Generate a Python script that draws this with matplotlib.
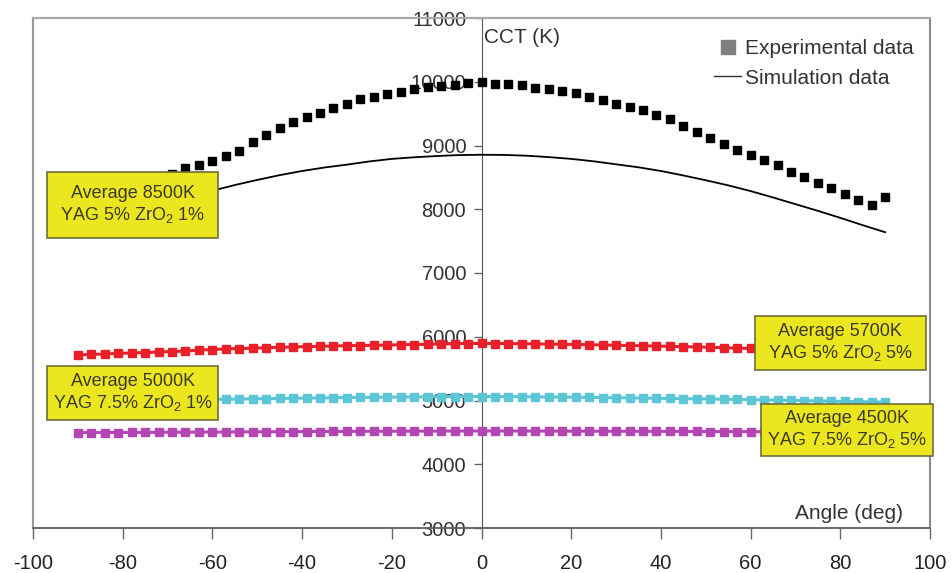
import matplotlib
matplotlib.use("Agg")
import matplotlib.pyplot as plt
from matplotlib.lines import Line2D
from matplotlib.patches import Rectangle
import numpy as np

plt.rcParams['font.family'] = ['Liberation Sans', 'DejaVu Sans']
plt.rcParams['mathtext.fontset'] = 'custom'
plt.rcParams['mathtext.rm'] = 'Liberation Sans'
plt.rcParams['mathtext.it'] = 'Liberation Sans'
plt.rcParams['axes.unicode_minus'] = False

######## data ########
# measured angles, every 3 deg
angle_exp = list(range(-90, 91, 3))

cct_8500_exp = [8020, 8090, 8160, 8240, 8320, 8400, 8480, 8560, 8640, 8690,
                8750, 8835, 8920, 9050, 9165, 9280, 9365, 9450, 9515, 9585,
                9645, 9725, 9765, 9810, 9845, 9880, 9915, 9935, 9950, 9975,
                9995, 9970, 9965, 9950, 9900, 9880, 9860, 9820, 9765, 9715,
                9650, 9610, 9555, 9480, 9410, 9305, 9215, 9110, 9025, 8930,
                8850, 8775, 8695, 8590, 8500, 8415, 8330, 8240, 8145, 8065,
                8190]

cct_5700 = [5715, 5722, 5730, 5738, 5745, 5752, 5760, 5767, 5775, 5790,
            5800, 5808, 5815, 5820, 5828, 5835, 5840, 5845, 5850, 5855,
            5860, 5862, 5866, 5870, 5874, 5878, 5882, 5886, 5890, 5893,
            5895, 5894, 5892, 5890, 5888, 5885, 5882, 5879, 5875, 5871,
            5867, 5862, 5858, 5854, 5850, 5845, 5840, 5834, 5828, 5822,
            5816, 5810, 5803, 5796, 5789, 5782, 5775, 5768, 5760, 5752,
            5745]

cct_5000 = [4985, 4988, 4992, 4996, 5000, 5003, 5006, 5009, 5012, 5015,
            5018, 5020, 5023, 5026, 5029, 5032, 5035, 5038, 5041, 5043,
            5046, 5048, 5050, 5052, 5054, 5056, 5058, 5059, 5060, 5061,
            5062, 5061, 5060, 5059, 5057, 5055, 5053, 5051, 5049, 5046,
            5044, 5041, 5038, 5035, 5032, 5029, 5026, 5023, 5020, 5017,
            5014, 5010, 5006, 5002, 4998, 4994, 4990, 4986, 4982, 4978,
            4975]

cct_4500 = [4495, 4496, 4497, 4498, 4499, 4500, 4501, 4502, 4503, 4504,
            4505, 4506, 4507, 4508, 4509, 4510, 4511, 4512, 4513, 4514,
            4515, 4516, 4517, 4518, 4518, 4519, 4520, 4520, 4521, 4521,
            4522, 4522, 4521, 4521, 4520, 4520, 4519, 4519, 4518, 4518,
            4517, 4517, 4516, 4516, 4515, 4515, 4514, 4513, 4512, 4512,
            4511, 4510, 4509, 4508, 4507, 4506, 4505, 4504, 4503, 4502,
            4501]

# simulation curve, every 5 deg
angle_sim = list(range(-90, 91, 5))
cct_8500_sim = [7640, 7750, 7860, 7970, 8080, 8185, 8290, 8380, 8460, 8535,
                8600, 8655, 8700, 8750, 8790, 8815, 8835, 8850, 8855, 8852,
                8840, 8818, 8790, 8752, 8705, 8658, 8600, 8530, 8455, 8375,
                8285, 8185, 8080, 7975, 7865, 7750, 7640]

box_labels = ["Average 8500K\nYAG 5% ZrO$_2$ 1%",
              "Average 5000K\nYAG 7.5% ZrO$_2$ 1%",
              "Average 5700K\nYAG 5% ZrO$_2$ 5%",
              "Average 4500K\nYAG 7.5% ZrO$_2$ 5%"]

x_ticks = list(range(-100, 101, 20))
y_ticks = list(range(3000, 11001, 1000))

######## plot ########
fig = plt.figure(figsize=(9.52, 5.73), dpi=100)
ax = fig.add_axes([33 / 952, 45 / 573, 897 / 952, 510 / 573])

ax.plot(angle_exp, cct_5700, color='#e8202a', marker='s', markersize=5.5, lw=2.2, zorder=3)
ax.plot(angle_exp, cct_5000, color='#5cc6d6', marker='s', markersize=5.5, lw=2.2, zorder=3)
ax.plot(angle_exp, cct_4500, color='#b446b4', marker='s', markersize=5.5, lw=2.2, zorder=3)

ax.plot(angle_exp, cct_8500_exp, linestyle='none', marker='s', markersize=5.5,
        color='black', zorder=3)
ax.plot(angle_sim, cct_8500_sim, color='black', lw=1.3, zorder=3)

ax.set_xlim(-100, 100)
ax.set_ylim(3000, 11000)
ax.set_xticks(x_ticks)
ax.set_yticks(y_ticks)

# y axis sits at angle 0, gray frame round the whole plot
ax.spines['left'].set_position(('data', 0))
ax.spines['left'].set_color('#555555')
ax.spines['bottom'].set_color('#666666')
ax.spines['bottom'].set_linewidth(1.2)
ax.spines['top'].set_color('#aaaaaa')
ax.spines['top'].set_linewidth(1.5)
ax.spines['right'].set_color('#888888')
ax.spines['right'].set_linewidth(1.2)
ax.add_patch(Rectangle((0, 0), 1, 1, transform=ax.transAxes, fill=False,
                       edgecolor='#999999', lw=1.5, zorder=0, clip_on=False))

ax.tick_params(axis='y', direction='out', length=6, width=1, color='#666666',
               labelsize=14.5, labelcolor='#333333', pad=5)
ax.tick_params(axis='x', direction='out', length=8, width=1, color='#666666',
               labelsize=14.5, labelcolor='#222222', pad=11)

ax.text(0.5, 10700, "CCT (K)", fontsize=15, color='#333333', va='center', ha='left')
ax.text(94, 3220, "Angle (deg)", fontsize=15, color='#333333', va='center', ha='right')

# yellow label boxes: (x0, x1, y0, y1) in data units
box_spots = [(-96.9, -58.7, 7549, 8584),
             (-96.9, -58.7, 4694, 5541),
             (60.9, 99.1, 5478, 6325),
             (62.4, 100.6, 4129, 4945)]
for (x0, x1, y0, y1), txt in zip(box_spots, box_labels):
    ax.add_patch(Rectangle((x0, y0), x1 - x0, y1 - y0, facecolor='#ece61e',
                           edgecolor='#6e6e3a', lw=1.2, zorder=5, clip_on=False))
    ax.text((x0 + x1) / 2, (y0 + y1) / 2, txt, ha='center', va='center',
            fontsize=13, color='#3a3a2a', linespacing=1.25, zorder=6)

handles = [Line2D([], [], color='#808080', marker='s', markersize=10.5, linestyle='none'),
           Line2D([], [], color='#333333', lw=1.0)]
ax.legend(handles, ["Experimental data", "Simulation data"], loc='upper right',
          bbox_to_anchor=(0.996, 0.983), frameon=False, fontsize=15,
          handlelength=1.3, handletextpad=0.2, labelspacing=0.5, borderaxespad=0.2,
          labelcolor='#333333')

plt.savefig("out.png", dpi=100)
